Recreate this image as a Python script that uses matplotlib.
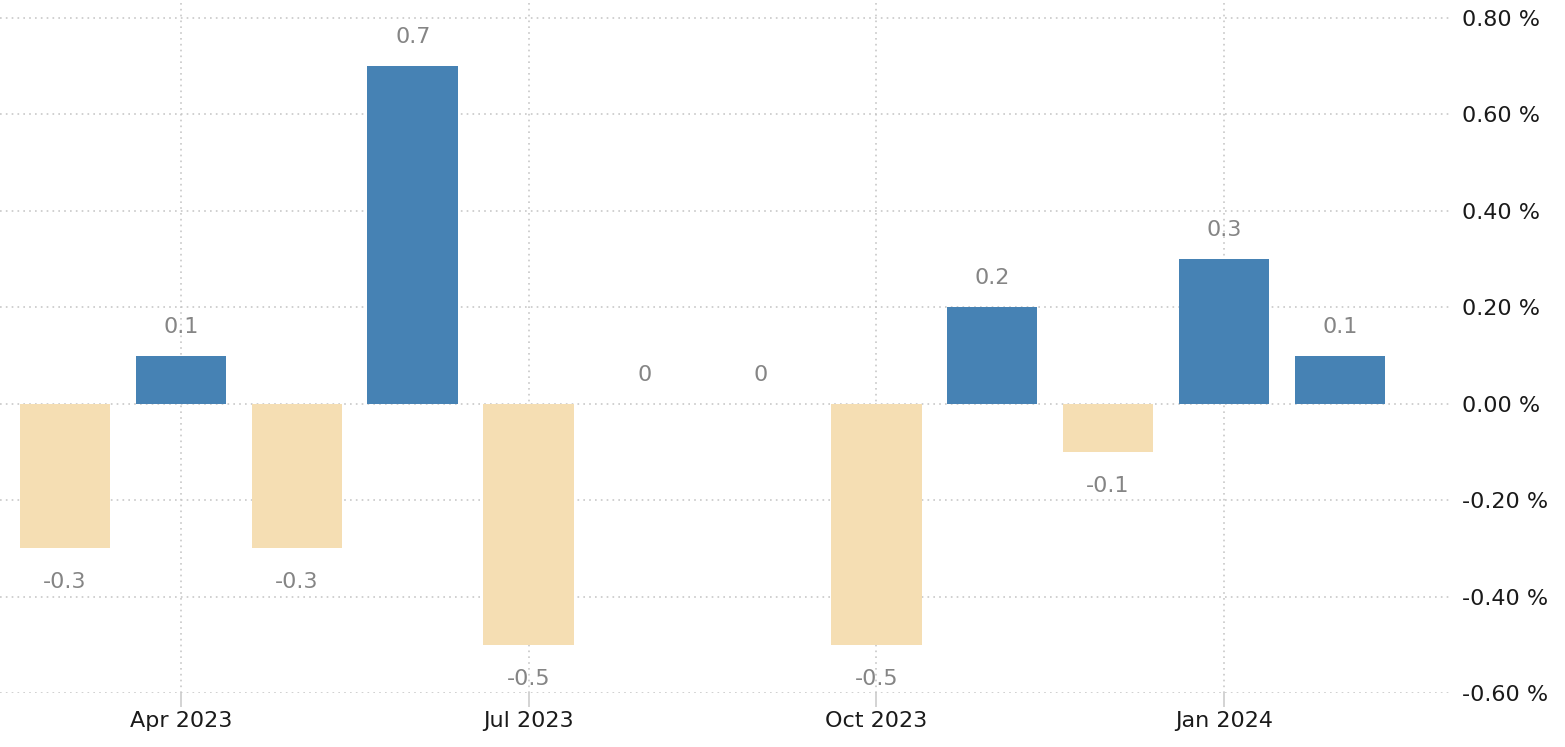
import matplotlib
matplotlib.use("Agg")
import matplotlib.pyplot as plt
import numpy as np

months = ["Mar 2023", "Apr 2023", "May 2023", "Jun 2023", "Jul 2023", "Aug 2023",
          "Sep 2023", "Oct 2023", "Nov 2023", "Dec 2023", "Jan 2024", "Feb 2024"]
values = [-0.3, 0.1, -0.3, 0.7, -0.5, 0.0, 0.0, -0.5, 0.2, -0.1, 0.3, 0.1]
tick_labels = ["Apr 2023", "Jul 2023", "Oct 2023", "Jan 2024"]
y_ticks = [-0.6, -0.4, -0.2, 0.0, 0.2, 0.4, 0.6, 0.8]

plt.rcParams['font.family'] = ['DejaVu Sans']

fig = plt.figure(figsize=(15.65, 7.47), dpi=100)
ax = fig.add_axes([0, 54 / 747, 1452 / 1565, 1 - 54 / 747])

x = np.arange(len(values))
colors = ['#4682B4' if v > 0 else '#F5DEB3' for v in values]
ax.bar(x, values, width=0.78, color=colors, zorder=2)

# value labels above / below bars
for xi, v in zip(x, values):
    off = -34 if v < 0 else 29
    ax.annotate(f"{v:g}", (xi, v), xytext=(0, off), textcoords='offset pixels',
                ha='center', va='center', color='#858585', fontsize=16)

tick_pos = [months.index(t) for t in tick_labels]
ax.set_xticks(tick_pos)
ax.set_xticklabels(tick_labels, fontsize=16, color='#1a1a1a')
ax.set_xlim(-65 / 115.9, (1452 - 65) / 115.9)

ax.set_yticks(y_ticks)
ax.set_yticklabels([f"{t:.2f} %" for t in y_ticks], fontsize=16, color='#1a1a1a')
ax.set_ylim(-0.6, 0.8 + 18 / 482)
ax.yaxis.tick_right()

ax.grid(True, linestyle=(0, (1, 2.5)), color='#c8c8c8', linewidth=1.2, zorder=0)
ax.tick_params(axis='y', length=0, pad=7)
ax.tick_params(axis='x', length=10, color='#cccccc', width=1.2, pad=3)
for s in ax.spines.values():
    s.set_visible(False)

fig.savefig("out.png", dpi=100)
